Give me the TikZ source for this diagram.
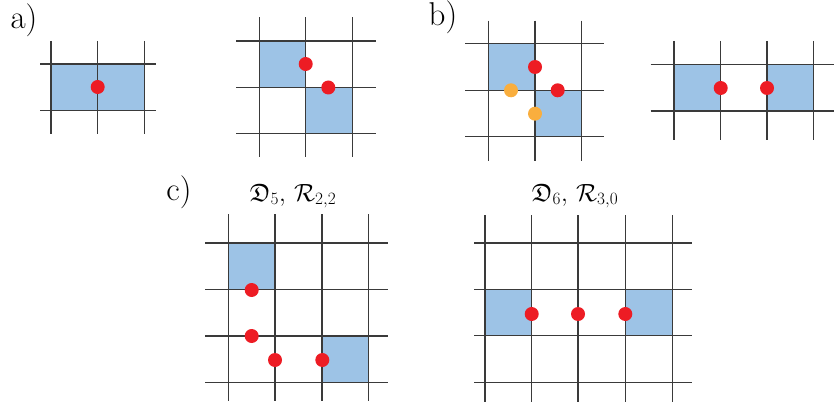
\documentclass[tikz,border=0pt]{standalone}
\usepackage{amssymb}
\begin{document}
\begin{tikzpicture}[x=1pt,y=-1pt]
\definecolor{gridc}{HTML}{3A3A3A}
\definecolor{cellc}{HTML}{9DC3E6}
\definecolor{redc}{HTML}{ED1C24}
\definecolor{orc}{HTML}{F9AE3E}
\tikzset{
  gridline/.style={draw=gridc, line width=1.3pt},
  cell/.style={fill=cellc, draw=none},
  reddot/.style={fill=redc, draw=none},
  orangedot/.style={fill=orc, draw=none},
  panellabel/.style={font=\fontsize{33}{36}\selectfont, inner sep=0pt},
  paneltitle/.style={font=\fontsize{25}{28}\selectfont, inner sep=0pt}
}
\useasboundingbox (0,0) rectangle (834,406);
% labels
\node[panellabel] (la) at (24,20) {a)};
\node[panellabel] (lb) at (443,17) {b)};
\node[panellabel] (lc) at (179,192) {c)};
\node[paneltitle] (t5) at (293,196) {$\mathfrak{D}_5,\,\mathcal{R}_{2,2}$};
\node[paneltitle] (t6) at (575,196) {$\mathfrak{D}_6,\,\mathcal{R}_{3,0}$};
% ---------- a) left
\fill[cell] (51,64) rectangle (144.3,110.3);
\foreach \x in {51,97.7,144.3} \draw[gridline] (\x,41) -- (\x,134);
\foreach \y in {64,110.3} \draw[gridline] (40,\y) -- (156,\y);
\fill[reddot] (97.7,87) circle (7);
% ---------- a) right
\fill[cell] (259.3,41) rectangle (305.7,87.3);
\fill[cell] (305.7,87.3) rectangle (352.3,133.7);
\foreach \x in {259.3,305.7,352.3} \draw[gridline] (\x,17.3) -- (\x,157.3);
\foreach \y in {41,87.3,133.7} \draw[gridline] (236,\y) -- (375.7,\y);
\fill[reddot] (305.7,64) circle (7);
\fill[reddot] (328.3,87.5) circle (7);
% ---------- b) left
\fill[cell] (488.3,43.7) rectangle (535,90.3);
\fill[cell] (535,90.3) rectangle (581.7,136.7);
\foreach \x in {488.3,535,581.7} \draw[gridline] (\x,20.7) -- (\x,160.7);
\foreach \y in {43.7,90.3,136.7} \draw[gridline] (465,\y) -- (604.3,\y);
\fill[reddot] (535,67) circle (7);
\fill[reddot] (557.7,90.3) circle (7);
\fill[orangedot] (511,90.3) circle (7);
\fill[orangedot] (535,113.7) circle (7);
% ---------- b) right
\fill[cell] (674,64.7) rectangle (720.7,111);
\fill[cell] (767,64.7) rectangle (813.7,111);
\foreach \x in {674,720.7,767,813.7} \draw[gridline] (\x,41) -- (\x,140.3);
\foreach \y in {64.7,111} \draw[gridline] (650.7,\y) -- (834,\y);
\fill[reddot] (720.7,88) circle (7);
\fill[reddot] (767,88) circle (7);
% ---------- c) left
\fill[cell] (228.7,243) rectangle (275,289.3);
\fill[cell] (322,336) rectangle (368.3,382.3);
\foreach \x in {228.7,275,322,368.3} \draw[gridline] (\x,214.3) -- (\x,401.3);
\foreach \y in {243,289.3,336,382.3} \draw[gridline] (205.3,\y) -- (388.3,\y);
\fill[reddot] (251.7,290) circle (7);
\fill[reddot] (251.7,336) circle (7);
\fill[reddot] (275,360) circle (7);
\fill[reddot] (322.3,360) circle (7);
% ---------- c) right
\fill[cell] (485,289.7) rectangle (531.7,335.7);
\fill[cell] (625.3,289.7) rectangle (672.3,335.7);
\foreach \x in {485,531.7,578,625.3,672.3} \draw[gridline] (\x,215) -- (\x,401.7);
\foreach \y in {243,289.7,335.7,382.7} \draw[gridline] (474.3,\y) -- (691.7,\y);
\fill[reddot] (531.7,314) circle (7);
\fill[reddot] (578,314) circle (7);
\fill[reddot] (625.3,314) circle (7);
\end{tikzpicture}
\end{document}
